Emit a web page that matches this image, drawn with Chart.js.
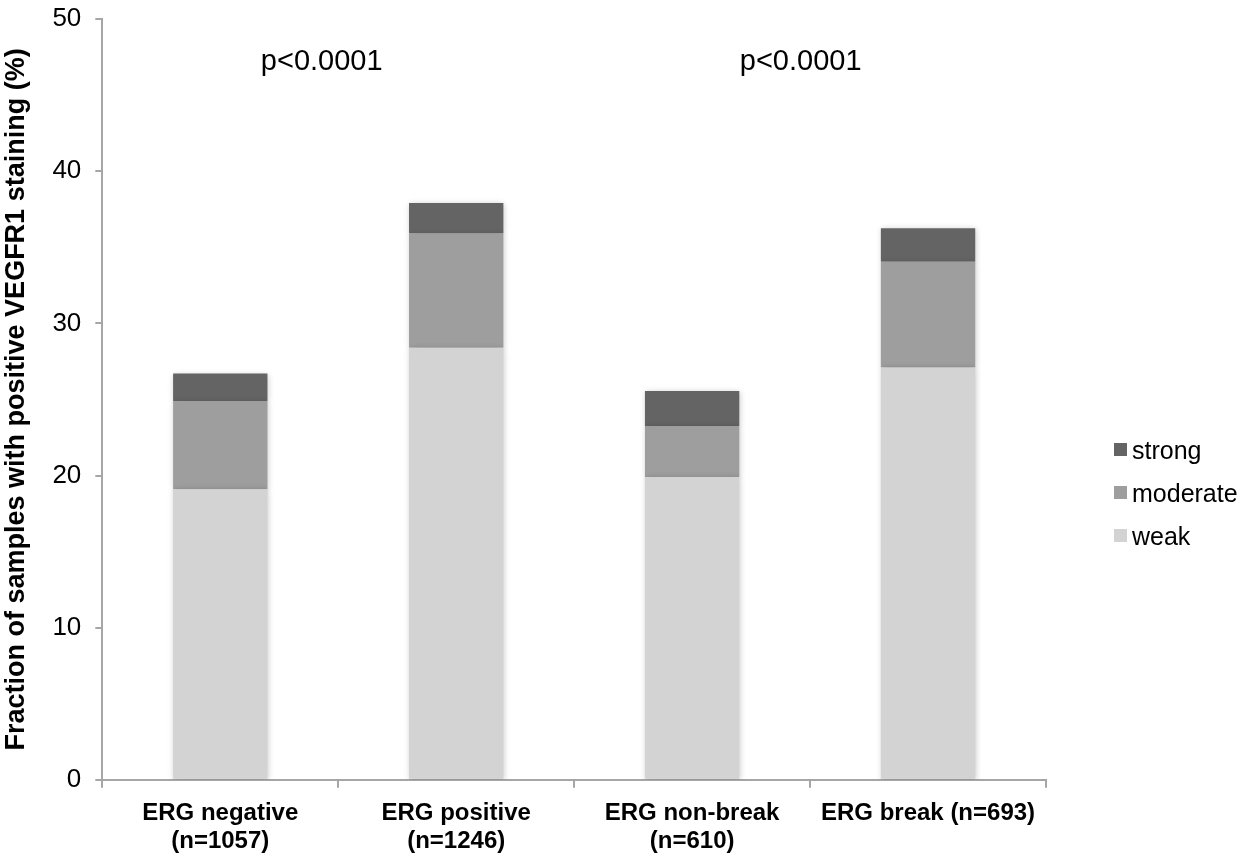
<!DOCTYPE html>
<html>
<head>
<meta charset="utf-8">
<script src="https://cdn.jsdelivr.net/npm/chart.js@4"></script>
<style>
  html, body { margin: 0; padding: 0; background: #fff; }
  #wrap { width: 1249px; height: 859px; position: relative; }
</style>
</head>
<body>
<div id="wrap"><canvas id="chart"></canvas></div>
<script>
// VEGFR1 staining by ERG status

const categories = [
  ['ERG negative', '(n=1057)'],
  ['ERG positive', '(n=1246)'],
  ['ERG non-break', '(n=610)'],
  'ERG break (n=693)'
];

const weak = [19.1, 28.4, 19.9, 27.1];
const moderate = [5.8, 7.5, 3.35, 6.95];
const strong = [1.8, 2.0, 2.3, 2.2];

const yTicks = [0, 10, 20, 30, 40, 50];

// p-values between the compared pairs, placed at fractional category positions
const pLabels = [
  { text: 'p<0.0001', at: 0.43, y: 47.2 },
  { text: 'p<0.0001', at: 2.46, y: 47.2 }
];

const FONT = '"Liberation Sans", Arial, sans-serif';
const axisGrey = '#a6a6a6';

const pValuePlugin = {
  id: 'pValues',
  afterDatasetsDraw(chart) {
    const ctx = chart.ctx;
    const xs = chart.scales.x, ys = chart.scales.y;
    ctx.save();
    ctx.fillStyle = '#000';
    ctx.font = '29px ' + FONT;
    ctx.textAlign = 'center';
    ctx.textBaseline = 'middle';
    for (let p of pLabels) {
      ctx.fillText(p.text, xs.getPixelForValue(p.at), ys.getPixelForValue(p.y));
    }
    ctx.restore();
  }
};

// legend on the right, stacked top-down as strong / moderate / weak
const sideLegend = {
  id: 'sideLegend',
  afterDraw(chart) {
    const ctx = chart.ctx;
    const items = chart.data.datasets.slice().reverse();
    const x0 = 1114, y0 = 451, step = 43;
    ctx.save();
    ctx.font = '25px ' + FONT;
    ctx.textBaseline = 'middle';
    items.forEach((ds, i) => {
      const y = y0 + i * step;
      ctx.fillStyle = ds.backgroundColor;
      ctx.fillRect(x0, y - 8, 13, 13);
      ctx.fillStyle = '#000';
      ctx.fillText(ds.label, x0 + 18, y + 1);
    });
    ctx.restore();
  }
};

const barShadow = {
  id: 'barShadow',
  beforeDatasetsDraw(chart) {
    const ctx = chart.ctx;
    ctx.save();
    ctx.shadowColor = 'rgba(0,0,0,0.22)';
    ctx.shadowBlur = 6;
    ctx.shadowOffsetX = 1;
    ctx.shadowOffsetY = 1;
  },
  afterDatasetsDraw(chart) {
    chart.ctx.restore();
  }
};

const ctx = document.getElementById('chart').getContext('2d');
const chart = new Chart(ctx, {
  type: 'bar',
  data: {
    labels: categories,
    datasets: [
      { label: 'weak', data: weak, backgroundColor: '#d3d3d3' },
      { label: 'moderate', data: moderate, backgroundColor: '#9e9e9e' },
      { label: 'strong', data: strong, backgroundColor: '#646464' }
    ]
  },
  options: {
    responsive: true,
    maintainAspectRatio: false,
    animation: false,
    devicePixelRatio: 1,
    datasets: {
      bar: { categoryPercentage: 1, barPercentage: 0.4, borderWidth: 0 }
    },
    layout: { padding: { top: 19, right: 203, bottom: 0, left: 0 } },
    plugins: {
      legend: { display: false },
      tooltip: { enabled: false }
    },
    scales: {
      x: {
        stacked: true,
        afterFit(scale) {
          scale.height -= 7;
        },
        border: { color: axisGrey, width: 2 },
        grid: {
          offset: true,
          drawOnChartArea: false,
          drawTicks: true,
          tickLength: 8,
          color: axisGrey,
          lineWidth: 2
        },
        ticks: {
          color: '#000',
          padding: 11,
          maxRotation: 0,
          autoSkip: false,
          font: { family: FONT, size: 24, weight: 'bold', lineHeight: 1.17 }
        }
      },
      y: {
        stacked: true,
        min: 0,
        max: 50,
        afterBuildTicks(axis) {
          axis.ticks = yTicks.map(v => ({ value: v }));
        },
        afterFit(scale) {
          scale.paddingTop = 0;
        },
        border: { color: axisGrey, width: 2 },
        grid: {
          drawOnChartArea: false,
          drawTicks: true,
          tickLength: 7,
          color: axisGrey,
          lineWidth: 2
        },
        ticks: {
          color: '#000',
          padding: 14,
          font: { family: FONT, size: 26 }
        },
        title: {
          display: true,
          text: 'Fraction of samples with positive VEGFR1 staining (%)',
          color: '#000',
          padding: { top: 0, bottom: 6 },
          font: { family: FONT, size: 27, weight: 'bold' }
        }
      }
    }
  },
  plugins: [barShadow, pValuePlugin, sideLegend]
});
</script>
</body>
</html>
